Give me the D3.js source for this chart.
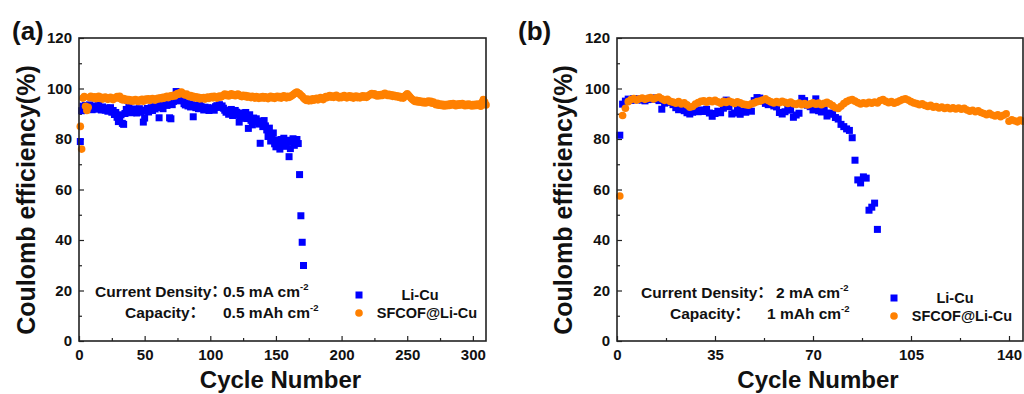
<!DOCTYPE html>
<html><head><meta charset="utf-8">
<script src="https://cdn.jsdelivr.net/npm/d3@7"></script>
<style>
html,body{margin:0;padding:0;background:#fff;}
svg text{font-family:"Liberation Sans",Arial,"Noto Sans CJK SC",sans-serif;font-weight:bold;fill:#111;}
</style></head>
<body>
<svg id="chart" width="1024" height="394"></svg>
<script>
// ---- data ----
const yTicks = [0, 20, 40, 60, 80, 100, 120];
const yMinor = [10, 30, 50, 70, 90, 110];
const xTicksA = [0, 50, 100, 150, 200, 250, 300];
const xMinorA = [25, 75, 125, 175, 225, 275];
const xTicksB = [0, 35, 70, 105, 140];
const xMinorB = [17.5, 52.5, 87.5, 122.5];
const seriesNames = ["Li-Cu", "SFCOF@Li-Cu"];

const liCuA = [
79,91.2,93.0,92.4,93.3,92.0,92.8,93.5,92.2,91.6,
92.5,93.1,91.8,92.6,93.4,92.1,91.5,92.7,92.0,91.4,
92.3,91.0,91.8,92.4,90.6,91.3,89.7,90.5,88.6,86.9,
88.2,89.6,86.2,85.8,90.1,91.7,95.4,92.6,91.2,90.4,
91.5,90.8,91.9,90.3,91.1,92.0,90.6,91.4,86.7,88.3,
91.0,92.1,90.7,91.6,92.4,91.3,92.8,91.9,92.5,93.1,
88.4,92.6,93.4,92.0,93.8,94.6,93.3,94.2,88.4,88.0,
93.6,94.9,97.2,98.8,96.4,95.1,97.8,96.6,95.3,94.0,
93.5,94.4,93.1,93.9,92.7,93.6,88.8,93.0,92.4,93.3,
92.0,93.6,92.8,92.2,91.5,92.6,91.9,92.4,91.3,92.1,
91.7,92.3,91.4,92.8,93.2,92.5,93.6,92.9,93.1,92.2,
91.4,90.6,91.2,89.8,90.5,91.7,89.3,90.1,91.3,90.6,
89.4,86.7,88.9,90.3,88.2,89.7,90.5,88.1,84.2,89.6,
87.4,85.6,88.3,86.8,88.0,87.1,85.9,78.3,86.7,84.9,
87.3,85.2,83.6,81.0,84.3,79.2,80.8,82.4,78.1,76.9,
79.6,77.4,76.0,79.8,78.2,80.3,77.1,78.7,79.5,73.0,
76.2,78.9,80.1,77.5,78.6,79.8,78.2,65.9,49.6,39.1,29.9];

const sfcofA = [
85,76,96.2,96.8,93.0,91.3,92.6,96.4,96.9,96.5,
96.2,96.7,96.0,96.4,96.9,96.1,96.5,95.8,96.3,96.6,
96.0,95.7,96.2,96.5,95.9,95.6,96.1,96.4,96.8,96.2,
96.9,95.8,95.5,96.0,95.4,95.7,95.2,95.6,95.1,95.4,
95.0,95.3,95.6,95.1,94.9,95.4,95.2,95.7,95.0,95.3,
95.8,95.5,95.9,95.3,95.6,96.0,95.7,95.4,95.8,96.1,
95.9,96.3,96.0,96.5,96.2,96.6,96.9,96.4,96.8,97.1,
96.9,97.3,97.0,97.6,98.0,97.7,98.4,98.6,98.1,97.6,
97.4,97.8,97.1,96.8,97.2,96.6,96.9,96.3,96.7,96.2,
96.5,95.9,96.3,96.0,96.4,95.8,96.2,96.6,96.1,96.5,
96.8,96.3,96.9,96.5,96.2,96.7,97.0,96.6,96.9,97.3,
97.8,97.2,97.6,97.0,97.4,97.9,97.3,97.6,97.1,97.5,
97.8,97.4,97.0,96.8,97.3,96.9,97.2,96.6,97.0,96.7,
96.4,96.9,96.5,96.2,96.8,96.4,96.1,96.6,96.3,96.8,
96.2,96.7,96.4,96.0,96.5,96.9,96.3,96.7,96.1,96.5,
96.9,96.4,96.8,96.2,96.7,97.1,96.6,96.3,96.9,96.5,
96.8,97.1,97.5,97.9,98.3,98.6,98.2,97.9,97.3,96.9,
96.2,95.7,95.3,95.8,95.1,95.6,95.2,95.9,95.4,95.7,
96.1,95.5,95.9,96.4,96.0,95.6,96.3,96.8,96.4,96.9,
97.2,96.6,97.0,96.5,96.9,97.3,96.7,96.3,96.8,96.4,
96.9,97.2,96.6,96.3,96.8,97.1,96.5,96.9,96.2,96.6,
97.0,96.4,96.8,96.3,96.7,97.1,96.6,97.0,96.5,96.9,
97.3,97.7,98.0,97.5,97.9,97.3,97.0,97.5,97.1,97.6,
97.2,97.8,98.1,97.6,97.2,97.7,97.1,97.5,96.9,97.3,
96.8,97.1,96.6,96.9,96.3,96.7,96.2,96.9,97.4,97.9,
97.3,96.7,96.1,95.6,95.2,94.9,95.3,94.7,95.1,94.6,
94.9,94.4,94.8,94.3,94.7,95.0,94.5,94.9,94.2,94.6,
94.0,93.6,94.1,93.4,93.8,93.3,93.7,93.1,93.6,93.2,
93.7,93.3,93.9,93.5,94.0,93.6,93.2,93.8,93.4,93.9,
93.5,94.0,93.6,93.2,93.7,93.3,93.8,93.4,93.1,93.6,
93.2,93.7,93.3,93.8,93.4,93.0,94.5,95.6,94.6,93.5];

const liCuB = [
81.5,93.8,95.0,95.8,95.3,96.0,95.5,95.9,95.4,95.1,
95.6,96.1,95.7,96.3,95.2,91.8,94.2,95.0,94.5,93.6,
92.4,91.6,92.0,91.2,90.4,89.9,90.6,91.3,90.8,91.5,
90.9,91.8,90.3,89.0,90.1,91.0,90.4,92.2,95.4,92.8,
89.9,90.3,92.4,89.8,91.1,90.6,91.5,91.0,95.2,96.4,
96.2,95.0,94.1,93.6,94.4,93.1,92.7,90.5,89.9,90.8,
92.0,91.4,88.6,89.5,90.2,96.1,95.2,93.4,92.8,91.5,
95.9,91.2,90.7,91.6,89.1,90.3,89.8,88.5,87.9,85.8,
84.9,84.0,83.4,80.5,71.6,63.8,62.6,65.0,64.5,51.8,53.0,54.6,44.2];

const sfcofB = [
57.4,89.3,92.2,94.8,95.6,96.0,95.4,95.9,96.2,95.7,
96.1,96.4,95.8,96.3,96.6,95.9,95.3,95.7,94.9,94.6,
94.2,94.8,93.9,94.3,93.5,92.6,92.9,93.8,94.4,94.9,
95.1,94.6,95.2,94.8,95.3,94.7,94.2,94.9,94.5,95.0,
94.6,94.1,94.7,94.3,93.8,93.6,93.4,93.9,94.3,94.8,
95.0,95.4,95.9,95.2,94.7,94.3,94.8,94.4,94.9,94.5,
94.1,94.6,94.0,93.7,94.2,93.6,94.0,93.5,93.9,94.3,
93.8,94.2,93.6,94.1,94.5,93.9,93.2,92.4,92.1,93.0,
94.0,94.8,95.3,95.6,95.0,94.4,93.9,94.3,94.0,94.5,
94.2,94.6,94.3,95.2,95.6,94.9,94.4,94.8,94.2,94.6,
95.1,95.6,95.9,95.4,94.8,94.3,94.0,93.6,93.9,93.3,
92.9,93.3,92.6,92.9,92.3,92.7,92.1,92.5,92.0,92.4,
91.9,92.3,91.8,92.2,91.5,91.0,91.4,90.8,91.2,90.5,
90.1,89.6,90.2,89.5,89.1,89.6,88.8,89.4,90.0,87.0,
87.6,87.2,86.8,87.5,87.0];

// ---- drawing ----
const svg = d3.select("#chart");
const BLUE = "#0000ff", ORANGE = "#ff8000";
const SQ = 7, CR = 3.8;

function panel(cfg){
  const {left,right,top,bottom,xmax,xTicks,xMinor,liCu,sfcof,label,labelX,textX,ann,legX,legTextX,legY} = cfg;
  const x = d3.scaleLinear().domain([0,xmax]).range([left,right]);
  const y = d3.scaleLinear().domain([0,120]).range([bottom,top]);
  const g = svg.append("g");

  // minor ticks
  g.append("g").attr("transform",`translate(${left},0)`)
    .call(d3.axisLeft(y).tickValues(yMinor).tickSize(-3).tickFormat(""))
    .call(s=>s.select(".domain").remove());
  g.append("g").attr("transform",`translate(0,${bottom})`)
    .call(d3.axisBottom(x).tickValues(xMinor).tickSize(-3).tickFormat(""))
    .call(s=>s.select(".domain").remove());
  // major ticks
  const ya = g.append("g").attr("transform",`translate(${left},0)`)
    .call(d3.axisLeft(y).tickValues(yTicks).tickSize(-5).tickPadding(7));
  ya.select(".domain").remove();
  const xa = g.append("g").attr("transform",`translate(0,${bottom})`)
    .call(d3.axisBottom(x).tickValues(xTicks).tickSize(-5).tickPadding(8));
  xa.select(".domain").remove();
  g.selectAll(".tick line").attr("stroke","#222").attr("stroke-width",1.2);
  g.selectAll(".tick text").style("font-size","15px").attr("fill","#111");

  // data
  g.append("g").selectAll("rect").data(liCu).join("rect")
    .attr("x",(d,i)=>x(i+1)-SQ/2).attr("y",d=>y(d)-SQ/2)
    .attr("width",SQ).attr("height",SQ).attr("fill",BLUE);
  g.append("g").selectAll("circle").data(sfcof).join("circle")
    .attr("cx",(d,i)=>x(i+1)).attr("cy",d=>y(d)).attr("r",CR).attr("fill",ORANGE);

  // frame
  g.append("rect").attr("x",left).attr("y",top).attr("width",right-left).attr("height",bottom-top)
    .attr("fill","none").attr("stroke","#222").attr("stroke-width",1.6);

  // titles
  g.append("text").attr("x",(left+right)/2-2).attr("y",388).attr("text-anchor","middle")
    .style("font-size","24px").text("Cycle Number");
  g.append("text").attr("transform",`translate(${textX},200) rotate(-90)`).attr("text-anchor","middle")
    .style("font-size","25px").text("Coulomb efficiency(%)");
  g.append("text").attr("x",labelX).attr("y",40).style("font-size","26px").text(label);

  // annotation
  ann.forEach(a=>{
    g.append("text").attr("x",a.x1).attr("y",a.y).style("font-size","15.5px").text(a.t1);
    const t = g.append("text").attr("x",a.x2).attr("y",a.y).style("font-size","15.5px");
    t.append("tspan").text(a.t2);
    t.append("tspan").attr("dy",-7).style("font-size","9.5px").text("-2");
  });

  // legend
  g.append("rect").attr("x",legX-SQ/2).attr("y",legY[0]-SQ/2).attr("width",SQ).attr("height",SQ).attr("fill",BLUE);
  g.append("circle").attr("cx",legX).attr("cy",legY[1]).attr("r",CR).attr("fill",ORANGE);
  g.append("text").attr("x",legTextX[0]).attr("y",legY[0]+5).attr("text-anchor","middle")
    .style("font-size","14.5px").text(seriesNames[0]);
  g.append("text").attr("x",legTextX[1]).attr("y",legY[1]+5).attr("text-anchor","middle")
    .style("font-size","14.5px").text(seriesNames[1]);
}

panel({left:79,right:486,top:38,bottom:341,xmax:310,xTicks:xTicksA,xMinor:xMinorA,
  liCu:liCuA,sfcof:sfcofA,label:"(a)",labelX:12,textX:35,
  ann:[{x1:95,x2:223,y:297,t1:"Current Density：",t2:"0.5 mA cm"},
       {x1:125,x2:223,y:318,t1:"Capacity：",t2:"0.5 mAh cm"}],
  legX:359,legTextX:[420,427],legY:[295,313]});

panel({left:617,right:1023,top:38,bottom:341,xmax:145,xTicks:xTicksB,xMinor:xMinorB,
  liCu:liCuB,sfcof:sfcofB,label:"(b)",labelX:518,textX:572,
  ann:[{x1:641,x2:776,y:298,t1:"Current Density：",t2:"2 mA cm"},
       {x1:670,x2:767,y:319,t1:"Capacity：",t2:"1 mAh cm"}],
  legX:894,legTextX:[955,962],legY:[298,316]});
</script>
</body></html>
